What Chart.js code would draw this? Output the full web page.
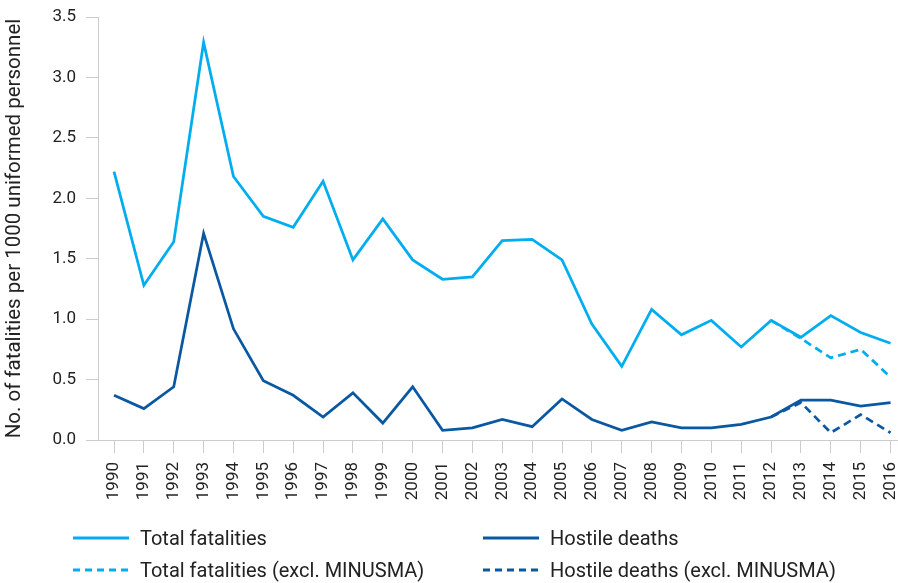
<!DOCTYPE html>
<html lang="en">

<head>
    <meta charset="UTF-8">
    <title>Fatalities per 1000 uniformed personnel</title>
    <script src="https://cdn.jsdelivr.net/npm/chart.js"></script>
    <style>
        body { margin: 0; background: #fff; font-family: Roboto, sans-serif; }
        #wrap { position: relative; width: 898px; height: 583px; }
        #legend { position: absolute; left: 0; top: 0; width: 898px; height: 583px; pointer-events: none; }
        .item { position: absolute; display: flex; align-items: center; font-size: 20px; color: #222; height: 26px; }
        .item svg { margin-right: 11px; }
    </style>
</head>

<body>
    <div id="wrap">
        <canvas id="chart" width="898" height="583"></canvas>
        <div id="legend"></div>
    </div>

    <script>
        // Years on the x axis
        const years = [1990, 1991, 1992, 1993, 1994, 1995, 1996, 1997, 1998, 1999,
            2000, 2001, 2002, 2003, 2004, 2005, 2006, 2007, 2008, 2009,
            2010, 2011, 2012, 2013, 2014, 2015, 2016];

        // Fatalities per 1000 uniformed personnel
        const totalFatalities = [2.22, 1.28, 1.64, 3.29, 2.18, 1.85, 1.76, 2.14, 1.49, 1.83,
            1.49, 1.33, 1.35, 1.65, 1.66, 1.49, 0.96, 0.61, 1.08, 0.87,
            0.99, 0.77, 0.99, 0.85, 1.03, 0.89, 0.80];
        const hostileDeaths = [0.37, 0.26, 0.44, 1.71, 0.92, 0.49, 0.37, 0.19, 0.39, 0.14,
            0.44, 0.08, 0.10, 0.17, 0.11, 0.34, 0.17, 0.08, 0.15, 0.10,
            0.10, 0.13, 0.19, 0.33, 0.33, 0.28, 0.31];
        const totalExclMinusma = [null, null, null, null, null, null, null, null, null, null,
            null, null, null, null, null, null, null, null, null, null,
            null, null, 0.99, 0.84, 0.68, 0.75, 0.52];
        const hostileExclMinusma = [null, null, null, null, null, null, null, null, null, null,
            null, null, null, null, null, null, null, null, null, null,
            null, null, 0.19, 0.31, 0.06, 0.21, 0.06];

        const yTicks = [0, 0.5, 1.0, 1.5, 2.0, 2.5, 3.0, 3.5];

        const lightBlue = '#00AEEF';
        const darkBlue = '#0A58A2';
        const axisGrey = '#cccccc';
        const textColor = '#222';
        const dash = [8, 5];

        function pts(values) {
            return years.map((yr, i) => ({ x: yr, y: values[i] }));
        }

        const datasets = [
            { label: 'Total fatalities (excl. MINUSMA)', data: pts(totalExclMinusma), borderColor: lightBlue, borderDash: dash, legendCol: 0, legendRow: 1 },
            { label: 'Hostile deaths (excl. MINUSMA)', data: pts(hostileExclMinusma), borderColor: darkBlue, borderDash: dash, legendCol: 1, legendRow: 1 },
            { label: 'Total fatalities', data: pts(totalFatalities), borderColor: lightBlue, borderDash: [], legendCol: 0, legendRow: 0 },
            { label: 'Hostile deaths', data: pts(hostileDeaths), borderColor: darkBlue, borderDash: [], legendCol: 1, legendRow: 0 }
        ].map(d => Object.assign(d, {
            borderWidth: 2.75,
            pointRadius: 0,
            tension: 0,
            fill: false,
            spanGaps: false
        }));

        const ctx = document.getElementById('chart').getContext('2d');
        new Chart(ctx, {
            type: 'line',
            data: { datasets: datasets },
            options: {
                responsive: false,
                animation: false,
                layout: { padding: { top: 17, right: 0, bottom: 0, left: 0 } },
                plugins: {
                    legend: { display: false },
                    tooltip: { enabled: false }
                },
                scales: {
                    x: {
                        type: 'linear',
                        min: 1989.464,
                        max: 2016.25,
                        afterBuildTicks: scale => { scale.ticks = years.map(v => ({ value: v })); },
                        afterFit: scale => {
                            scale.height = 143;
                            scale.paddingLeft = 0;
                            scale.paddingRight = 0;
                        },
                        border: { color: axisGrey, width: 1 },
                        grid: { drawOnChartArea: false, drawTicks: true, tickLength: 13, color: axisGrey },
                        ticks: {
                            autoSkip: false,
                            minRotation: 90,
                            maxRotation: 90,
                            padding: 9,
                            color: textColor,
                            font: { family: 'Roboto', size: 17 },
                            callback: v => String(v)
                        }
                    },
                    y: {
                        min: 0,
                        max: 3.5,
                        afterBuildTicks: scale => { scale.ticks = yTicks.map(v => ({ value: v })); },
                        afterFit: scale => {
                            scale.width = 98;
                            scale.paddingTop = 0;
                            scale.paddingBottom = 0;
                        },
                        border: { color: axisGrey, width: 1 },
                        grid: { drawOnChartArea: false, drawTicks: true, tickLength: 12, color: axisGrey },
                        ticks: {
                            padding: 10,
                            color: textColor,
                            font: { family: 'Roboto', size: 17 },
                            callback: v => v.toFixed(1)
                        },
                        title: {
                            display: true,
                            text: 'No. of fatalities per 1000 uniformed personnel',
                            color: textColor,
                            font: { family: 'Roboto', size: 20.5 },
                            padding: { top: 3, bottom: 0 }
                        }
                    }
                }
            }
        });

        // HTML legend in two columns, built from the datasets
        const legendEl = document.getElementById('legend');
        const colX = [73, 483];
        const rowY = [538, 570];
        datasets.forEach(d => {
            const item = document.createElement('div');
            item.className = 'item';
            item.style.left = colX[d.legendCol] + 'px';
            item.style.top = (rowY[d.legendRow] - 13) + 'px';
            const dashAttr = d.borderDash.length ? ` stroke-dasharray="7 5"` : '';
            item.innerHTML = `<svg width="56" height="4"><line x1="0" y1="2" x2="56" y2="2" stroke="${d.borderColor}" stroke-width="3"${dashAttr}/></svg><span>${d.label}</span>`;
            legendEl.appendChild(item);
        });
    </script>
</body>

</html>
